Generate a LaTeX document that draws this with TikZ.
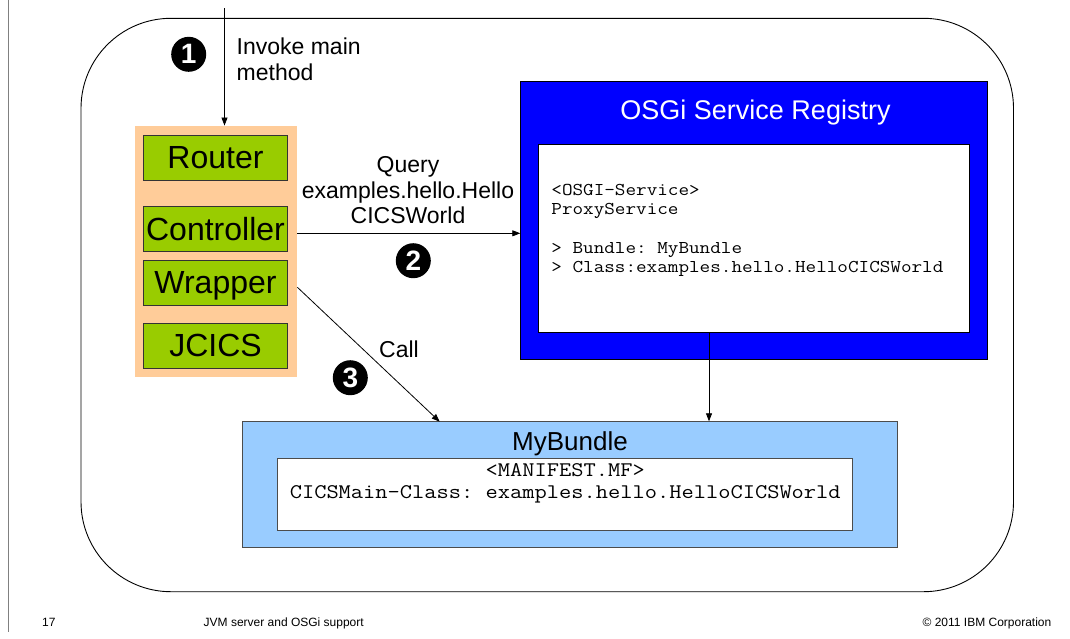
\documentclass[tikz,border=0pt]{standalone}
\usepackage{fontspec}
\setmainfont{Liberation Sans}
\newfontfamily\codefont[FakeStretch=1.143]{Latin Modern Mono}
\usetikzlibrary{arrows.meta}
\definecolor{peach}{RGB}{255,204,153}
\definecolor{leaf}{RGB}{153,204,0}
\definecolor{regblue}{RGB}{0,0,255}
\definecolor{bundleblue}{RGB}{153,204,255}
\definecolor{rulegray}{RGB}{128,128,128}
\newcommand{\pxfont}[1]{\fontsize{#1}{#1}\selectfont}
\frenchspacing
\begin{document}
\begin{tikzpicture}[x=1pt,y=-1pt,
  line width=0.8pt,
  comp/.style={draw=black!80, line width=0.8pt, fill=leaf, minimum width=144.3pt,
    minimum height=45pt, inner sep=0pt, text height=22pt, text depth=0pt,
    font=\pxfont{32}},
  badge/.style={circle, fill=black, minimum size=35pt, inner sep=0pt, text=white,
    text height=19pt, text depth=0pt, font=\pxfont{28}\bfseries},
  label/.style={anchor=base, inner sep=0pt, font=\pxfont{23}},
  code/.style={anchor=base west, inner sep=0pt, font=\codefont\frenchspacing\pxfont{18}},
  mf/.style={anchor=base, inner sep=0pt, font=\codefont\frenchspacing\pxfont{20.8}},
  foot/.style={anchor=base west, inner sep=0pt, font=\pxfont{12}},
  flow/.style={-{Triangle[length=8pt,width=6pt]}, line width=0.8pt}]
\useasboundingbox (0,0) rectangle (1070,638);

% page margin rule
\draw[rulegray, line width=0.9pt] (8.3,0) -- (8.3,632);

% JVM server boundary
\draw[line width=0.9pt, rounded corners=90pt] (81,18.3) rectangle (1013.5,591.7);

% Application stack
\node[fill=peach, minimum width=162pt, minimum height=250.7pt, inner sep=0pt]
  (stack) at (216,251.3) {};
\node[comp] (router) at (215.5,157.7) {Router};
\node[comp] (controller) at (215.5,229.2) {Controller};
\node[comp] (wrapper) at (215.5,282.8) {Wrapper};
\node[comp] (jcics) at (215.5,345.8) {JCICS};

% OSGi service registry
\node[draw=black, fill=regblue, minimum width=466.8pt, minimum height=277.5pt, inner sep=0pt]
  (registry) at (754.1,220.25) {};
\node[anchor=base, inner sep=0pt, text=white, font=\pxfont{27}] (regtitle) at (755.5,119.3)
  {OSGi Service Registry};
\node[draw=black, fill=white, minimum width=430.6pt, minimum height=188pt, inner sep=0pt]
  (service) at (753.9,238.3) {};
\node[code] (svc1) at (551,195) {<OSGI-Service>};
\node[code] (svc2) at (551,214) {ProxyService};
\node[code] (svc3) at (551,253.3) {> Bundle: MyBundle};
\node[code] (svc4) at (551,272.3) {> Class:examples.hello.HelloCICSWorld};

% Target bundle
\node[draw=black!70, fill=bundleblue, minimum width=655.5pt, minimum height=126pt, inner sep=0pt]
  (bundle) at (570,484.7) {};
\node[anchor=base, inner sep=0pt, font=\pxfont{26}] (bundletitle) at (570,450.7) {MyBundle};
\node[draw=black!70, fill=white, minimum width=575pt, minimum height=72pt, inner sep=0pt]
  (manifest) at (565.25,494) {};
\node[mf] (mf1) at (565.25,476.7) {<MANIFEST.MF>};
\node[mf] (mf2) at (565.25,498) {CICSMain-Class: examples.hello.HelloCICSWorld};

% Step 1: invoke main method
\coordinate (entry) at (224.5,8);
\draw[flow] (entry) -- (entry |- stack.north);
\node[badge] (b1) at (188.7,54.3) {1};
\node[anchor=base west, inner sep=0pt, font=\pxfont{23}] (inv1) at (236.3,54) {Invoke main};
\node[anchor=base west, inner sep=0pt, font=\pxfont{23}] (inv2) at (236.3,80) {method};

% Step 2: query the registry
\coordinate (qline) at (297,233.3);
\draw[flow] (stack.east |- qline) -- (registry.west |- qline);
\node[label] (q1) at (408,172.7) {Query};
\node[label] (q2) at (408,198.3) {examples.hello.Hello};
\node[label] (q3) at (408,223.3) {CICSWorld};
\node[badge] (b2) at (413.3,260.7) {2};

% Step 3: call the bundle
\coordinate (cstart) at (297,287.3);
\coordinate (cend) at (439.7,421.7);
\draw[flow] (stack.east |- cstart) -- (cend);
\node[anchor=base west, inner sep=0pt, font=\pxfont{23}] (call) at (378.8,357.3) {Call};
\node[badge] (b3) at (350.3,377.7) {3};

% Registry resolves to the bundle
\coordinate (link) at (709,0);
\draw[flow] (service.south -| link) -- (bundle.north -| link);

% Footer
\node[foot] (page) at (41.7,626) {17};
\node[foot] (topic) at (203.3,626) {JVM server and OSGi support};
\node[anchor=base east, inner sep=0pt, font=\pxfont{12}] (copy) at (1051.7,626)
  {© 2011 IBM Corporation};
\end{tikzpicture}
\end{document}
